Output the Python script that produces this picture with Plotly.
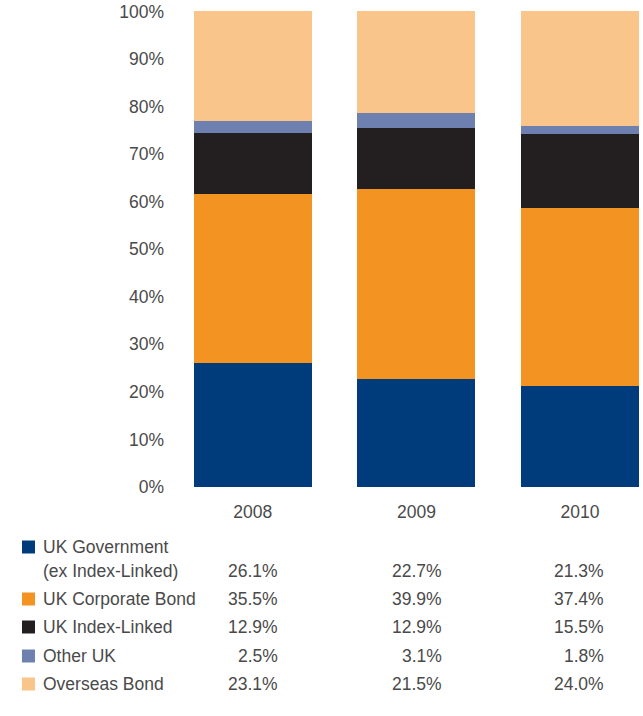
import plotly.graph_objects as go

# Allocation by year (percent of portfolio)
years = ["2008", "2009", "2010"]
series_names = ["UK Government\n(ex Index-Linked)", "UK Corporate Bond", "UK Index-Linked",
                "Other UK", "Overseas Bond"]
uk_government = [26.1, 22.7, 21.3]
uk_corporate = [35.5, 39.9, 37.4]
uk_index_linked = [12.9, 12.9, 15.5]
other_uk = [2.5, 3.1, 1.8]
overseas_bond = [23.1, 21.5, 24.0]
y_ticks = [0, 10, 20, 30, 40, 50, 60, 70, 80, 90, 100]

series_values = [uk_government, uk_corporate, uk_index_linked, other_uk, overseas_bond]
colors = ["#003B7B", "#F39322", "#231F20", "#6D80B0", "#F9C58A"]

W, H = 643, 716
ML, MR, MT, MB = 171, 0, 11, 229
TEXT = "#4a4a4a"
FONT = "Liberation Sans, Arial, sans-serif"
FS = 17.5

fig = go.Figure()
for name, vals, col in zip(series_names, series_values, colors):
    fig.add_trace(go.Bar(
        x=years, y=vals, name=name.replace("\n", " "),
        marker=dict(color=col, line=dict(width=0)),
        width=0.722, showlegend=False, hoverinfo="skip",
    ))

fig.update_layout(
    width=W, height=H, barmode="stack",
    margin=dict(l=ML, r=MR, t=MT, b=MB, pad=0),
    paper_bgcolor="white", plot_bgcolor="white",
    font=dict(family=FONT, size=FS, color=TEXT),
    xaxis=dict(range=[-0.5, 2.385], showgrid=False, zeroline=False, showline=False,
               ticks="", ticklabelstandoff=12, tickfont=dict(size=FS, color=TEXT)),
    yaxis=dict(range=[0, 100.1], tickvals=y_ticks, ticktext=[f"{t}%" for t in y_ticks],
               showgrid=False, zeroline=False, showline=False, ticks="",
               ticklabelstandoff=6, tickfont=dict(size=FS, color=TEXT)),
)

# Table beneath the chart: coloured key, series names and values per year
plot_w = W - ML - MR
plot_h = H - MT - MB


def px_x(px):
    return (px - ML) / plot_w


def px_y(py):
    return (H - MB - py) / plot_h


row_y = [571, 599, 627, 656, 684]
key_y = [547, 599, 627, 656, 684]
value_right = [280, 444, 606]

for i, (name, vals, col) in enumerate(zip(series_names, series_values, colors)):
    cy = key_y[i]
    fig.add_shape(type="rect", xref="paper", yref="paper",
                  x0=px_x(22), x1=px_x(35), y0=px_y(cy + 6.5), y1=px_y(cy - 6.5),
                  fillcolor=col, line=dict(width=0))
    lines = name.split("\n")
    if len(lines) == 2:
        fig.add_annotation(text=lines[0], xref="paper", yref="paper", x=px_x(41), y=px_y(547),
                           xanchor="left", yanchor="middle", showarrow=False)
        fig.add_annotation(text=lines[1], xref="paper", yref="paper", x=px_x(41), y=px_y(571),
                           xanchor="left", yanchor="middle", showarrow=False)
    else:
        fig.add_annotation(text=name, xref="paper", yref="paper", x=px_x(41), y=px_y(row_y[i]),
                           xanchor="left", yanchor="middle", showarrow=False)
    for v, xr in zip(vals, value_right):
        fig.add_annotation(text=f"{v:.1f}%", xref="paper", yref="paper", x=px_x(xr),
                           y=px_y(row_y[i]), xanchor="right", yanchor="middle", showarrow=False)

fig.write_html("out.html")
